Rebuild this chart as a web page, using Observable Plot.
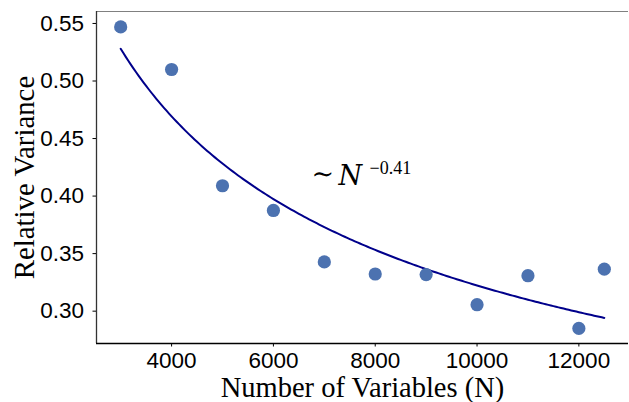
<!DOCTYPE html>
<html>
<head>
<meta charset="utf-8">
<script src="https://cdn.jsdelivr.net/npm/d3@7"></script>
<script src="https://cdn.jsdelivr.net/npm/@observablehq/plot@0.6"></script>
<style>
  html, body { margin: 0; padding: 0; background: #fff; }
</style>
</head>
<body>
<div id="chart"></div>
<script>
// Data
const nValues = [3000, 4000, 5000, 6000, 7000, 8000, 9000, 10000, 11000, 12000, 12500];
const relVariance = [0.547, 0.510, 0.409, 0.3875, 0.3428, 0.3323, 0.3318, 0.3056, 0.3308, 0.285, 0.3365];
const xTicks = [4000, 6000, 8000, 10000, 12000];
const yTicks = [0.30, 0.35, 0.40, 0.45, 0.50, 0.55];
// Power-law fit shown in the chart: ~ N^-0.41
const fitCoef = 14.07;
const fitExponent = -0.41;
const fitStart = 3000, fitEnd = 12500, fitStep = 50;
const xLabel = "Number of Variables (N)";
const yLabel = "Relative Variance";
const annotation = {x: 6750, y: 0.41};

const points = nValues.map((n, i) => ({n, v: relVariance[i]}));
const curve = d3.range(fitStart, fitEnd + fitStep / 2, fitStep).map(n => ({n, v: fitCoef * Math.pow(n, fitExponent)}));

const xDomain = [2525, 12975];
const yDomain = [0.2719, 0.5604];

const sans = "'Liberation Sans', Arial, sans-serif";
const serif = "'Liberation Serif', 'Times New Roman', serif";
const cm = "'DejaVu Serif', 'Liberation Serif', serif";

const chart = Plot.plot({
  width: 629,
  height: 402,
  marginLeft: 96,
  marginRight: 1,
  marginTop: 11,
  marginBottom: 59,
  style: {background: "#fff", overflow: "visible"},
  x: {domain: xDomain},
  y: {domain: yDomain},
  marks: [
    Plot.ruleY([yDomain[1]], {stroke: "#808080", strokeWidth: 1.2}),
    Plot.ruleX([xDomain[0]], {stroke: "#333", strokeWidth: 1.3}),
    Plot.ruleY([yDomain[0]], {stroke: "#000", strokeWidth: 1.3}),
    Plot.axisX({ticks: xTicks, tickFormat: d => String(d), tickSize: 3.5, tickPadding: 5, fontSize: 22.5, fontFamily: sans, label: null, stroke: "#000", color: "#000"}),
    Plot.axisY({ticks: yTicks, tickFormat: d => d.toFixed(2), tickSize: 3.5, tickPadding: 9, fontSize: 22.5, fontFamily: sans, label: null, stroke: "#000", color: "#000"}),
    Plot.line(curve, {x: "n", y: "v", stroke: "#00008b", strokeWidth: 2}),
    Plot.dot(points, {x: "n", y: "v", r: 6.6, fill: "#4c72b0", stroke: "none"}),
    Plot.text([annotation], {x: "x", y: "y", text: () => "\u223C", textAnchor: "start", lineAnchor: "bottom", fontSize: 27, fontFamily: cm, fill: "#000", dy: -2}),
    Plot.text([annotation], {x: "x", y: "y", text: () => "N", textAnchor: "start", lineAnchor: "bottom", fontSize: 27, fontFamily: cm, fontStyle: "italic", fontWeight: 300, fill: "#000", dx: 27}),
    Plot.text([annotation], {x: "x", y: "y", text: () => "\u22120.41", textAnchor: "start", lineAnchor: "bottom", fontSize: 18, fontFamily: serif, fill: "#000", dx: 58, dy: -11}),
    Plot.text([xLabel], {frameAnchor: "bottom", text: d => d, textAnchor: "middle", lineAnchor: "bottom", dy: 53, fontSize: 28.5, fontFamily: serif, fill: "#000"}),
    Plot.text([yLabel], {frameAnchor: "left", text: d => d, textAnchor: "middle", rotate: -90, lineAnchor: "bottom", dx: -63, fontSize: 28.8, fontFamily: serif, fill: "#000"})
  ]
});
document.getElementById("chart").appendChild(chart);
</script>
</body>
</html>
